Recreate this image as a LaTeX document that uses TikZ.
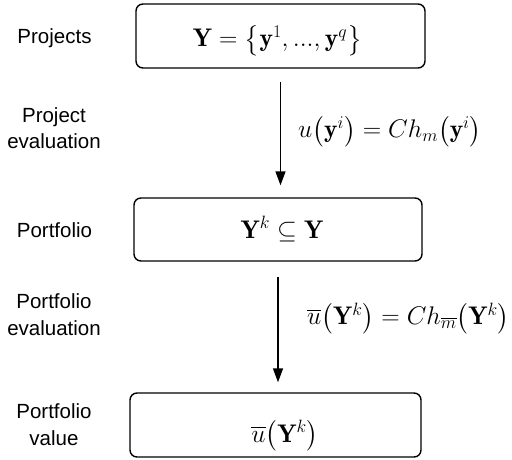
\RequirePackage{fix-cm}
\documentclass[tikz,border=0pt]{standalone}
\usepackage{amsmath,amssymb}
\usepackage{fontspec}
\newfontfamily\labfamily{Liberation Sans}
\usetikzlibrary{arrows.meta}
\newcommand\labfont{\labfamily\fontsize{20.5}{26.5}\selectfont}
\newcommand\mathsz{\fontsize{25.5}{30}\selectfont}
\begin{document}
\begin{tikzpicture}[x=1pt,y=-1pt,
  box/.style={draw,line width=1.4pt,rounded corners=7pt,inner sep=0pt},
  lab/.style={font=\labfont,align=center,inner sep=0pt},
  mth/.style={font=\mathsz,inner sep=0pt},
  arr/.style={line width=1.4pt,-{Triangle[length=14pt,width=10pt]}}]
\useasboundingbox (0,0) rectangle (512,460);
% boxes
\node[box,minimum width=289pt,minimum height=64pt] (b1) at (280.5,36) {};
\node[box,minimum width=288pt,minimum height=63pt] (b2) at (278,229.5) {};
\node[box,minimum width=291pt,minimum height=64pt] (b3) at (275.5,425) {};
% box contents
\node[mth,anchor=base] (t1) at (277.5,47) {$\mathbf{Y}=\bigl\{\mathbf{y}^1,...,\mathbf{y}^q\bigr\}$};
\node[mth,anchor=base] (t2) at (282,238) {$\mathbf{Y}^k\subseteq\mathbf{Y}$};
\node[mth,anchor=base] (t3) at (285,442) {$\overline{u}\bigl(\mathbf{Y}^k\bigr)$};
% left labels
\node[lab,anchor=base] (l1) at (54.5,44) {Projects};
\node[lab] (l2) at (54,128) {Project\\evaluation};
\node[lab,anchor=base] (l3) at (54.5,237) {Portfolio};
\node[lab] (l4) at (54,314.5) {Portfolio\\evaluation};
\node[lab] (l5) at (54,424.5) {Portfolio\\value};
% arrows
\draw[arr] ([yshift=-13pt]b1.south) -- ([yshift=12pt]b1.south |- b2.north);
\draw[arr] ([yshift=-15pt]b2.south) -- ([yshift=10pt]b2.south |- b3.north);
% arrow labels
\node[mth,anchor=west] (m1) at (298,131.5) {$u\bigl(\mathbf{y}^i\bigr)=Ch_m\bigl(\mathbf{y}^i\bigr)$};
\node[mth,anchor=west] (m2) at (307,318.5) {$\overline{u}\bigl(\mathbf{Y}^k\bigr)=Ch_{\overline{m}}\bigl(\mathbf{Y}^k\bigr)$};
\end{tikzpicture}
\end{document}
